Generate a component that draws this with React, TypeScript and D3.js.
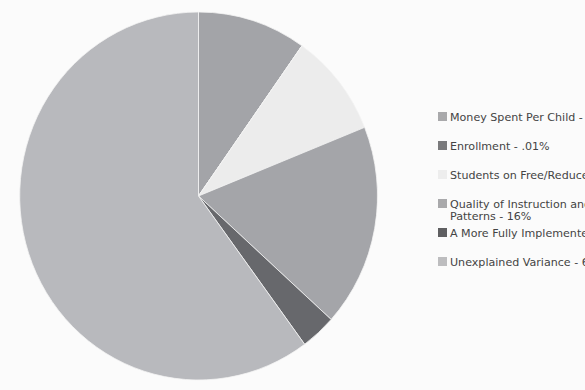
import React, { useEffect } from "react";
import * as d3 from "d3";

const categories = [
  "Money Spent Per Child - 10%",
  "Enrollment - .01%",
  "Students on Free/Reduced Lunch - 9%",
  "Quality of Instruction and Attendance|Patterns - 16%",
  "A More Fully Implemented Curriculum - 3%",
  "Unexplained Variance - 62%",
];
const values = [9.8, 0.01, 9.1, 17.8, 3.2, 60.1];
const sliceColors = ["#a3a4a8", "#7a7b7f", "#ececec", "#a4a5a9", "#67686c", "#b8b9bd"];
const swatchColors = ["#a9a9ab", "#7a7a7c", "#ededed", "#a9a9ab", "#5f5f61", "#bdbdbf"];

const W = 585;
const H = 390;
const cx = 198.5;
const cy = 196;
const rx = 179;
const ry = 184;

export default function App() {
  useEffect(() => {
    document.body.style.margin = "0";
  }, []);

  const pie = d3.pie<number>().value((d) => d).sort(null);
  const arcs = pie(values);
  const arc = d3.arc<d3.PieArcDatum<number>>().innerRadius(0).outerRadius(1);

  const legendX = 438;
  const swatch = 9;
  const rowY = d3.scaleLinear().domain([0, 5]).range([117, 262]);

  return (
    <svg width={W} height={H} style={{ display: "block", background: "#fbfbfb" }}>
      <g transform={`translate(${cx},${cy}) scale(${rx},${ry})`}>
        {arcs.map((a, i) => (
          <path
            key={i}
            d={arc(a) || ""}
            fill={sliceColors[i]}
            stroke="#f4f4f4"
            strokeWidth={0.8}
            vectorEffect="non-scaling-stroke"
          />
        ))}
      </g>
      <g fontFamily="'DejaVu Sans', Verdana, sans-serif" fontSize={11.1} fill="#444">
        {categories.map((c, i) => {
          const y = rowY(i);
          const lines = c.split("|");
          return (
            <g key={i}>
              <rect x={legendX} y={y - swatch / 2 - 0.5} width={swatch} height={swatch} fill={swatchColors[i]} />
              {lines.map((l, j) => (
                <text key={j} x={legendX + 12} y={y + j * 12.5} dy="0.35em">
                  {l}
                </text>
              ))}
            </g>
          );
        })}
      </g>
    </svg>
  );
}
